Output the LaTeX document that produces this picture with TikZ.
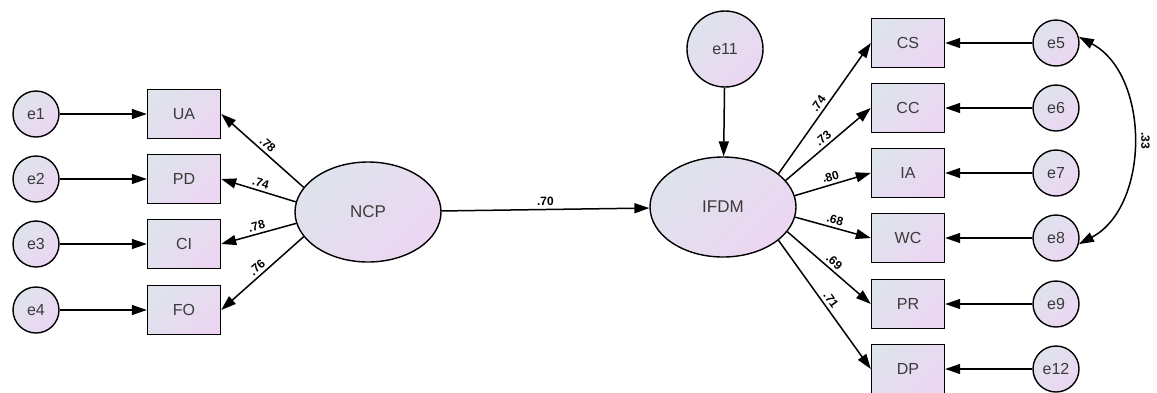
\documentclass[tikz,border=0pt]{standalone}
\usepackage{fontspec}
\setmainfont{Liberation Sans}
\usetikzlibrary{arrows.meta,shapes.geometric}
\definecolor{fillL}{HTML}{DEE3EC}
\definecolor{fillR}{HTML}{ECD6F2}
\definecolor{ink}{HTML}{3A3A3A}
\tikzset{
    every node/.style={text=ink},
    shaded/.style={draw, line width=1.4pt, left color=fillL, right color=fillR, shading angle=45},
    obs/.style={shaded, minimum width=73pt, minimum height=49pt, inner sep=0pt,
        font=\fontsize{16}{18}\selectfont},
    err/.style={shaded, circle, minimum size=46pt, inner sep=0pt,
        font=\fontsize{16}{18}\selectfont},
    latent/.style={shaded, ellipse, minimum width=146pt, minimum height=100pt, inner sep=0pt,
        font=\fontsize{17}{19}\selectfont},
    path/.style={line width=1.5pt, -{Triangle[length=15pt,width=10pt]}},
    coef/.style={midway, sloped, above, inner sep=3pt, text=black, font=\bfseries\fontsize{12}{13}\selectfont},
}

\begin{document}
\begin{tikzpicture}[x=1pt, y=-1pt]
    \useasboundingbox (0,0) rectangle (1157,392);
    % latent variables
    \node[latent] (NCP) at (368,212) {NCP};
    \node[latent] (IFDM) at (723,207) {IFDM};
    \node[err, minimum size=76pt] (e11) at (725,49) {e11};
    \draw[path] (NCP) -- node[coef] {.70} (IFDM);
    \draw[path] (e11) -- (IFDM);
    % NCP indicators
    \foreach \n/\y/\a/\c [count=\i] in {UA/114/159/.78, PD/179/172/.74, CI/244/189/.78, FO/310/201/.76} {
        \node[obs] (\n) at (184,\y) {\n};
        \node[err] (e\i) at (36,\y) {e\i};
        \draw[path] (e\i) -- (\n);
        \draw[path] (NCP.\a) -- node[coef] {\c} (\n.east);
    }
    % IFDM indicators
    \foreach \n/\y/\e/\a/\c in {CS/43/e5/31/.74, CC/108/e6/23/.73, IA/173/e7/9/.80,
                                WC/238/e8/-8/.68, PR/304/e9/-21/.69, DP/369/e12/-31/.71} {
        \node[obs] (\n) at (908,\y) {\n};
        \node[err] (\e) at (1056,\y) {\e};
        \draw[path] (\e) -- (\n);
        \draw[path] (IFDM.\a) -- node[coef] {\c} (\n.west);
    }
    % correlated errors
    \draw[line width=1.5pt, {Triangle[length=15pt,width=10pt]}-{Triangle[length=15pt,width=10pt]}]
        (e5.15) to[bend left=62] node[coef, pos=0.5, above=5pt] {.33} (e8.-15);
\end{tikzpicture}
\end{document}
